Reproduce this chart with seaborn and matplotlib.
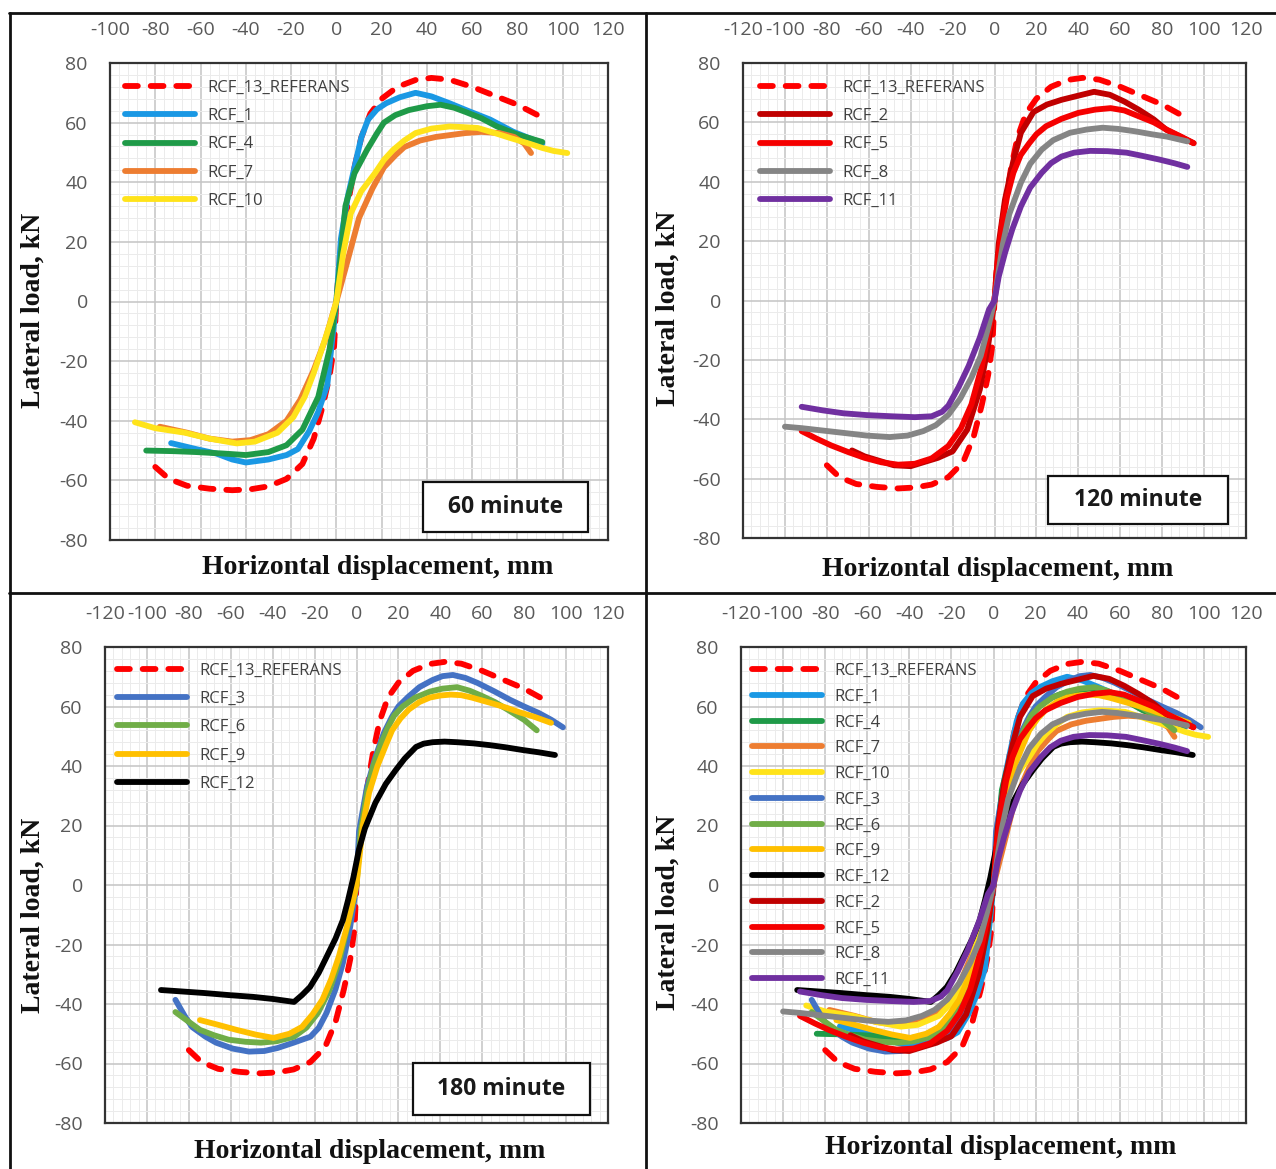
import numpy as np
import matplotlib
matplotlib.use("Agg")
import matplotlib.pyplot as plt
from matplotlib.ticker import MultipleLocator
from matplotlib.lines import Line2D
from matplotlib.patches import Rectangle
import seaborn as sns

# ---------------- load-displacement curves (x: mm, y: kN) ----------------
ref_x = [-80, -74, -66, -56, -46, -38, -30, -22, -15, -10, -6, -3, -1, 0,
         1, 4, 8, 11, 15, 20, 27, 35, 42, 50, 60, 70, 80, 89]
ref_y = [-55.5, -59.5, -61.8, -62.8, -63.3, -63, -62, -59.5, -54.5, -46, -35, -25, -15, 0,
         10, 28, 45, 55, 63, 68, 72, 74.3, 75, 74.4, 72, 69, 66, 62.5]

rcf1_x = [-73, -62, -53, -46, -40, -30, -22, -17, -12, -8, -4, -2, 0,
          2, 5, 8, 11, 14, 18, 22, 28, 35, 42, 50, 58, 68, 78, 91]
rcf1_y = [-47.5, -49.5, -51, -53, -54, -53, -51.5, -49.5, -43.5, -37, -28, -14, 0,
          21, 35, 45, 55, 61, 64.5, 66.5, 68.5, 70, 68.8, 66.5, 64, 61, 57, 53]

rcf4_x = [-84, -72, -62, -50, -40, -30, -22, -15, -8, -3, 0,
          4, 8, 13.5, 18, 21, 26, 32, 40, 46, 52, 57, 64, 71, 80, 91]
rcf4_y = [-50, -50.2, -50.5, -51, -51.5, -50.5, -48.2, -43, -32, -16, 0,
          32, 43, 50.8, 56.5, 60, 62.5, 64.2, 65.5, 66, 65, 63.6, 61.5, 58.7, 56, 53.5]

rcf7_x = [-78, -66, -56, -46, -38, -30, -22, -16, -10, -5, 0,
          4, 10, 16, 21, 26, 30, 37, 44, 50, 57, 64, 72, 78.5, 83, 86]
rcf7_y = [-42, -44, -46, -47, -46.5, -44.5, -40, -33, -23, -13, 0,
          11, 28, 38, 45, 49, 51.8, 54, 55.2, 55.8, 56.5, 56.9, 56.5, 55.2, 53, 49.8]

rcf10_x = [-89, -80, -67, -56, -44, -36, -26, -19, -14, -10, -6, -2.6, 0,
           3, 6.4, 11, 17, 21, 25, 30, 35, 42, 50, 56, 62.5, 70, 77, 85, 91, 96, 102]
rcf10_y = [-40.5, -42.5, -44, -46, -47.6, -47, -44, -38.8, -32, -24, -15, -7, 0,
           16, 29.6, 37, 43, 47.5, 50.8, 54, 56.5, 58, 58.7, 58.5, 58.2, 56.5, 54.8, 53, 51.5, 50.5, 49.8]

rcf2_x = [-68, -62, -55, -48, -40, -34, -27, -20, -13, -7, -3, 0,
          2, 5, 9, 12.6, 18.6, 25, 32, 40, 47.5, 55, 62, 69, 76, 82, 89, 95]
rcf2_y = [-50.5, -52.5, -54, -55.5, -55.8, -54.5, -53, -50.8, -43.5, -30, -15, 0,
          19, 34, 47, 56.5, 63.5, 66, 67.6, 69, 70.3, 69.3, 67, 64.2, 61, 57.5, 55, 53]

rcf5_x = [-92, -85, -78, -70, -62, -54, -46, -38, -30, -22, -16, -11, -6, -2, 0,
          1.5, 3.5, 6, 9, 12.5, 16.6, 20, 24.6, 32, 40, 48, 55.4, 62, 69, 76, 82.3, 89, 95]
rcf5_y = [-44, -46.5, -48.8, -51, -53, -54.5, -55.3, -55, -53.2, -49, -43, -35, -22, -8, 0,
          13, 25, 35, 43, 49, 53, 56, 58.7, 61.2, 63.2, 64.3, 64.8, 64, 62, 60, 57.5, 55.2, 53]

rcf8_x = [-100, -92, -82, -72, -61, -50, -41.5, -34, -28, -22, -16.3, -11, -6.6, -3, 0,
          2, 4, 7, 12.6, 17, 22.5, 28, 36, 44, 51.6, 59, 67, 75, 82.3, 92]
rcf8_y = [-42.5, -43, -43.8, -44.6, -45.5, -46, -45.5, -44, -42, -38.5, -33, -26, -18.7, -9, 0,
          10, 19, 29, 39.7, 46, 50.8, 54, 56.5, 57.6, 58.2, 57.8, 57, 56, 55.2, 53.6]

rcf11_x = [-92, -82, -72, -61, -49, -38, -30, -25, -22, -17, -12.3, -7, -2.6, 0,
           2, 5, 8.5, 12.6, 17, 22.5, 27, 32, 38, 45.6, 54, 63, 70, 78.5, 86, 92]
rcf11_y = [-35.8, -37, -38, -38.6, -39, -39.3, -39, -37.5, -35.4, -29, -22, -12.5, -3, 0,
           8, 16, 24, 31.7, 38, 43, 46.3, 48.5, 49.8, 50.4, 50.3, 49.8, 48.8, 47.5, 46.2, 45]

rcf3_x = [-86.4, -82, -78.5, -72, -67, -59, -51.3, -44, -37.7, -30, -22, -18, -14.3, -10, -6.5, -3, 0,
          1.2, 5, 9, 13, 16.9, 20, 24.6, 30, 36.3, 41, 46, 52, 57.8, 66, 73.4, 80, 87, 93, 98.5]
rcf3_y = [-38.6, -44, -47.7, -51, -53, -55, -56, -55.8, -54.8, -53, -51, -48, -43, -35, -26.2, -14, 0,
          18, 33, 43, 51, 56.5, 60, 63.2, 66.5, 68.9, 70.2, 70.6, 69.6, 67.9, 65, 62.2, 60, 57.8, 55.5, 53]

rcf6_x = [-86.4, -80, -74.7, -68, -61, -53, -45.6, -38, -29.8, -24, -18.4, -13, -8.4, -4, 0,
          2, 5, 8, 12, 15, 18, 22, 28, 35, 41, 48, 54, 60, 66, 72, 80, 86]
rcf6_y = [-42.7, -46, -48.7, -50.5, -52, -52.7, -53, -52.5, -51, -48, -43, -35.5, -26, -13, 0,
          18, 31, 40, 48, 53, 57, 60, 63, 65, 66, 66.5, 65.3, 63.5, 61.5, 59, 55.5, 52]

rcf9_x = [-74.7, -66, -57.2, -48, -39.6, -32, -26, -21, -16.3, -12, -8.4, -4, 0,
          3, 6, 10, 14, 17, 21, 25, 30, 35, 40, 45, 50, 55, 65, 72, 78, 85, 92.8]
rcf9_y = [-45.4, -47, -48.7, -50.3, -51.4, -50, -47.7, -43.5, -38.6, -31.5, -24, -12.5, 0,
          20, 31, 40, 47, 52, 56, 59, 61.5, 63, 63.7, 64, 63.8, 63, 61, 59.5, 58, 56.5, 54.5]

rcf12_x = [-93.3, -83, -72.8, -61, -49.4, -40, -29.8, -26, -22.2, -18, -14.3, -10, -6.5, -4, -1.5,
           1.2, 4, 9, 14, 18.8, 23, 28.4, 32, 36.3, 42, 48, 56, 63.7, 71, 79, 87, 94.7]
rcf12_y = [-35.3, -35.8, -36.3, -37, -37.6, -38.3, -39.3, -37, -34.3, -29.5, -24.2, -18, -11.8, -5, 2.5,
           12, 19, 27.6, 34, 38.7, 42.5, 46.4, 47.5, 48, 48.2, 48, 47.6, 47, 46.3, 45.4, 44.6, 43.7]

series = {
    "RCF_13_REFERANS": (ref_x, ref_y, "#ff0000"),
    "RCF_1": (rcf1_x, rcf1_y, "#1a98e4"),
    "RCF_4": (rcf4_x, rcf4_y, "#1f9a48"),
    "RCF_7": (rcf7_x, rcf7_y, "#ed7d31"),
    "RCF_10": (rcf10_x, rcf10_y, "#ffe31a"),
    "RCF_3": (rcf3_x, rcf3_y, "#4472c4"),
    "RCF_6": (rcf6_x, rcf6_y, "#70ad47"),
    "RCF_9": (rcf9_x, rcf9_y, "#ffc000"),
    "RCF_12": (rcf12_x, rcf12_y, "#000000"),
    "RCF_2": (rcf2_x, rcf2_y, "#c00000"),
    "RCF_5": (rcf5_x, rcf5_y, "#f50000"),
    "RCF_8": (rcf8_x, rcf8_y, "#858585"),
    "RCF_11": (rcf11_x, rcf11_y, "#7030a0"),
}

yticks = [-80, -60, -40, -20, 0, 20, 40, 60, 80]

panels = [
    dict(box=(110, 63, 608, 540), xlim=(-100, 120),
         names=["RCF_13_REFERANS", "RCF_1", "RCF_4", "RCF_7", "RCF_10"],
         tag="60 minute", tagbox=(423, 482, 588, 532),
         leg=(125, 80), legpitch=0.73, xlab=(378, 568), ylab=(33, 310)),
    dict(box=(743, 63, 1246, 538), xlim=(-120, 120),
         names=["RCF_13_REFERANS", "RCF_2", "RCF_5", "RCF_8", "RCF_11"],
         tag="120 minute", tagbox=(1048, 476, 1228, 524),
         leg=(760, 80), legpitch=0.73, xlab=(998, 569), ylab=(668, 308)),
    dict(box=(105, 647, 608, 1123), xlim=(-120, 120),
         names=["RCF_13_REFERANS", "RCF_3", "RCF_6", "RCF_9", "RCF_12"],
         tag="180 minute", tagbox=(413, 1063, 590, 1115),
         leg=(117, 663), legpitch=0.73, xlab=(370, 1151), ylab=(33, 915)),
    dict(box=(741, 647, 1246, 1123), xlim=(-120, 120),
         names=["RCF_13_REFERANS", "RCF_1", "RCF_4", "RCF_7", "RCF_10", "RCF_3", "RCF_6",
                "RCF_9", "RCF_12", "RCF_2", "RCF_5", "RCF_8", "RCF_11"],
         tag=None, tagbox=None,
         leg=(752, 663), legpitch=0.585, xlab=(1001, 1148), ylab=(668, 912)),
]

# ---------------- styling ----------------
sns.set_style("white")
plt.rcParams["font.family"] = ["Open Sans", "DejaVu Sans"]
plt.rcParams["axes.unicode_minus"] = False

W, H = 1276, 1169
fig = plt.figure(figsize=(W / 100, H / 100), dpi=100)
fig.patch.set_facecolor("white")

LW = 4.2
TICK_COLOR = "#595959"


def fig_xy(px, py):
    return px / W, 1 - py / H


for p in panels:
    l, t, r, b = p["box"]
    ax = fig.add_axes([l / W, 1 - b / H, (r - l) / W, (b - t) / H])
    ax.set_axisbelow(True)

    for name in p["names"]:
        xs, ys, color = series[name]
        if name == "RCF_13_REFERANS":
            sns.lineplot(x=xs, y=ys, sort=False, estimator=None, ax=ax, color=color,
                         linewidth=LW, linestyle=(0, (2.2, 2.2)), dash_capstyle="round",
                         label=name)
        else:
            sns.lineplot(x=xs, y=ys, sort=False, estimator=None, ax=ax, color=color,
                         linewidth=LW, solid_capstyle="round", solid_joinstyle="round",
                         label=name)

    ax.set_xlim(*p["xlim"])
    ax.set_ylim(-80, 80)
    ax.set_xlabel("")
    ax.set_ylabel("")

    ax.xaxis.set_major_locator(MultipleLocator(20))
    ax.xaxis.set_minor_locator(MultipleLocator(4))
    ax.set_yticks(yticks)
    ax.yaxis.set_minor_locator(MultipleLocator(4))
    ax.xaxis.tick_top()
    ax.tick_params(axis="x", which="both", length=0, pad=17, labelsize=14, labelcolor=TICK_COLOR)
    ax.tick_params(axis="y", which="both", length=0, pad=16, labelsize=14, labelcolor=TICK_COLOR)

    ax.grid(which="major", color="#c4c4c4", linewidth=1.1)
    ax.grid(which="minor", color="#ebebeb", linewidth=0.7)

    for sp in ax.spines.values():
        sp.set_visible(True)
        sp.set_color("#333333")
        sp.set_linewidth(1.6)

    # legend
    handles, labels = ax.get_legend_handles_labels()
    lx, ly = fig_xy(*p["leg"])
    leg = ax.legend(handles, labels, loc="upper left", bbox_to_anchor=(lx, ly),
                    bbox_transform=fig.transFigure, frameon=False, fontsize=12,
                    handlelength=4.2, handletextpad=0.75, labelspacing=p["legpitch"],
                    borderpad=0, borderaxespad=0)
    for txt in leg.get_texts():
        txt.set_color("#404040")

    # time label box
    if p["tag"]:
        x0, y0, x1, y1 = p["tagbox"]
        fx0, fy1 = fig_xy(x0, y1)
        rect = Rectangle((fx0, fy1), (x1 - x0) / W, (y1 - y0) / H, transform=fig.transFigure,
                         facecolor="white", edgecolor="#111111", linewidth=1.6, zorder=10)
        fig.add_artist(rect)
        cx, cy = fig_xy((x0 + x1) / 2, (y0 + y1) / 2)
        fig.text(cx, cy, p["tag"], ha="center", va="center", fontsize=16.5,
                 fontweight="bold", color="#1a1a1a", zorder=11)

    # axis titles
    xx, xy = fig_xy(*p["xlab"])
    fig.text(xx, xy, "Horizontal displacement, mm", ha="center", va="center",
             family="Liberation Serif", weight="bold", fontsize=20, color="#111111")
    yx, yy = fig_xy(*p["ylab"])
    fig.text(yx, yy, "Lateral load, kN", ha="center", va="center", rotation=90,
             family="Liberation Serif", weight="bold", fontsize=20, color="#111111")

# panel frame lines
frame_kw = dict(color="#111111", linewidth=2.0, transform=fig.transFigure)
fig.add_artist(Line2D([9 / W, 1], [1 - 13 / H, 1 - 13 / H], **frame_kw))
fig.add_artist(Line2D([10 / W, 10 / W], [1 - 13 / H, 0], **frame_kw))
fig.add_artist(Line2D([646 / W, 646 / W], [1 - 13 / H, 0], **frame_kw))
fig.add_artist(Line2D([9 / W, 1], [1 - 593 / H, 1 - 593 / H], **frame_kw))

fig.savefig("out.png", dpi=100, facecolor="white")
